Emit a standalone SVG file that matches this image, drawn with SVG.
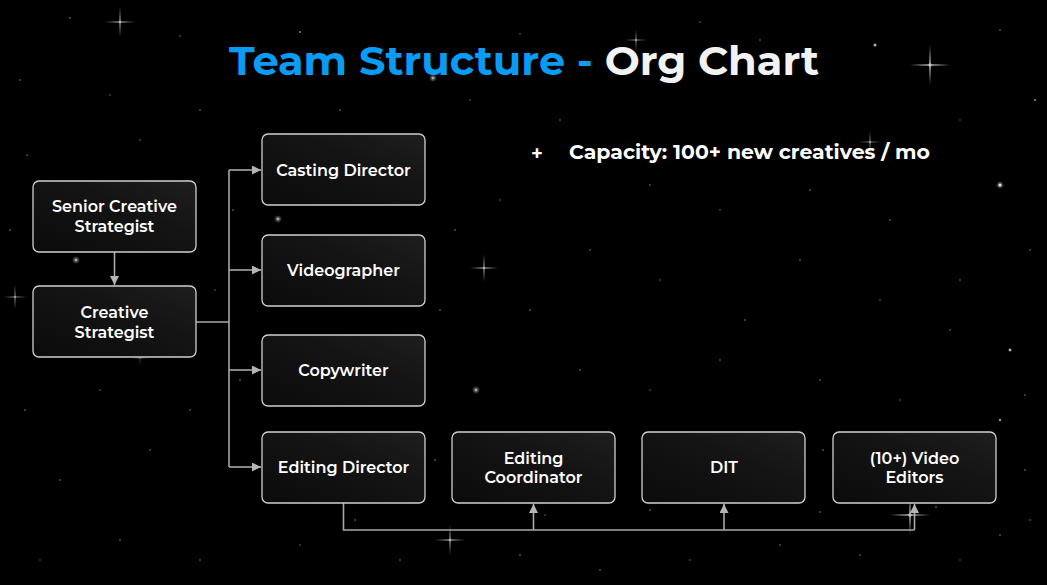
<svg xmlns="http://www.w3.org/2000/svg" width="1047" height="585" viewBox="0 0 1047 585">
<defs>
<linearGradient id="boxg" x1="0" y1="1" x2="1" y2="0">
<stop offset="0" stop-color="#0b0b0b"/>
<stop offset="0.6" stop-color="#141414"/>
<stop offset="1" stop-color="#1e1e1e"/>
</linearGradient>
<radialGradient id="glow">
<stop offset="0" stop-color="#ffffff" stop-opacity="0.9"/>
<stop offset="0.4" stop-color="#ffffff" stop-opacity="0.35"/>
<stop offset="1" stop-color="#ffffff" stop-opacity="0"/>
</radialGradient>
<marker id="arr" viewBox="0 0 10 10" refX="10" refY="5" markerWidth="9" markerHeight="9" markerUnits="userSpaceOnUse" orient="auto">
<path d="M0,0 L10,5 L0,10 z" fill="#b5b5b5"/>
</marker>
<symbol id="spark" viewBox="-20 -20 40 40" overflow="visible">
<path d="M0,-20 L1,-1 L20,0 L1,1 L0,20 L-1,1 L-20,0 L-1,-1 z" fill="#ffffff" opacity="0.55"/>
<circle r="2.5" fill="url(#glow)"/>
</symbol>
</defs>
<style>
.node rect{fill:url(#boxg);stroke:#cfcfcf;stroke-width:1.3}
.node text{font-family:Montserrat,Inter,"Noto Sans",sans-serif;font-weight:600;font-size:16px;fill:#ffffff;text-anchor:middle}
.conn path{fill:none;stroke:#a8a8a8;stroke-width:1.6}
.star{fill:#ffffff}
</style>
<rect width="1047" height="585" fill="#000000"/>
<g id="stars" class="star">
<circle cx="70" cy="18" r="0.8" opacity="0.6"/><circle cx="180" cy="36" r="0.7" opacity="0.5"/><circle cx="300" cy="32" r="0.9" opacity="0.6"/>
<circle cx="380" cy="58" r="0.8" opacity="0.5"/><circle cx="520" cy="34" r="0.7" opacity="0.5"/><circle cx="610" cy="55" r="0.9" opacity="0.6"/>
<circle cx="700" cy="22" r="0.7" opacity="0.5"/><circle cx="760" cy="40" r="0.8" opacity="0.5"/><circle cx="875" cy="45" r="1.5" opacity="0.7"/>
<circle cx="1000" cy="30" r="0.8" opacity="0.5"/><circle cx="1035" cy="100" r="1" opacity="0.6"/><circle cx="960" cy="120" r="0.7" opacity="0.5"/>
<circle cx="20" cy="80" r="0.8" opacity="0.5"/><circle cx="110" cy="95" r="0.7" opacity="0.5"/><circle cx="200" cy="110" r="0.8" opacity="0.5"/>
<circle cx="140" cy="140" r="0.7" opacity="0.5"/><circle cx="27" cy="155" r="0.8" opacity="0.5"/><circle cx="233" cy="210" r="0.8" opacity="0.5"/>
<circle cx="340" cy="110" r="0.8" opacity="0.5"/><circle cx="470" cy="100" r="0.7" opacity="0.5"/><circle cx="560" cy="120" r="0.8" opacity="0.5"/>
<circle cx="650" cy="185" r="0.8" opacity="0.5"/><circle cx="720" cy="210" r="0.7" opacity="0.5"/><circle cx="810" cy="190" r="0.8" opacity="0.5"/>
<circle cx="890" cy="220" r="0.8" opacity="0.5"/><circle cx="1000" cy="185" r="1.5" opacity="0.7"/><circle cx="960" cy="280" r="0.8" opacity="0.5"/>
<circle cx="1030" cy="250" r="0.8" opacity="0.5"/><circle cx="1010" cy="350" r="1.4" opacity="0.7"/><circle cx="950" cy="330" r="0.8" opacity="0.5"/>
<circle cx="880" cy="300" r="0.7" opacity="0.5"/><circle cx="800" cy="260" r="0.8" opacity="0.5"/><circle cx="745" cy="320" r="0.8" opacity="0.5"/>
<circle cx="660" cy="280" r="0.7" opacity="0.5"/><circle cx="590" cy="250" r="0.8" opacity="0.5"/><circle cx="530" cy="310" r="0.8" opacity="0.5"/>
<circle cx="455" cy="230" r="0.8" opacity="0.5"/><circle cx="500" cy="200" r="0.7" opacity="0.5"/><circle cx="440" cy="310" r="0.8" opacity="0.5"/>
<circle cx="580" cy="370" r="0.8" opacity="0.5"/><circle cx="650" cy="390" r="0.7" opacity="0.5"/><circle cx="720" cy="360" r="0.8" opacity="0.5"/>
<circle cx="820" cy="380" r="0.8" opacity="0.5"/><circle cx="900" cy="400" r="0.7" opacity="0.5"/><circle cx="1000" cy="420" r="1.2" opacity="0.6"/>
<circle cx="1025" cy="470" r="0.8" opacity="0.5"/><circle cx="1000" cy="535" r="0.8" opacity="0.5"/><circle cx="960" cy="560" r="0.7" opacity="0.5"/>
<circle cx="860" cy="555" r="0.8" opacity="0.5"/><circle cx="780" cy="545" r="0.8" opacity="0.5"/><circle cx="690" cy="560" r="0.7" opacity="0.5"/>
<circle cx="600" cy="570" r="0.8" opacity="0.5"/><circle cx="520" cy="555" r="0.8" opacity="0.5"/><circle cx="400" cy="560" r="0.8" opacity="0.5"/>
<circle cx="300" cy="545" r="0.7" opacity="0.5"/><circle cx="200" cy="560" r="0.8" opacity="0.5"/><circle cx="120" cy="540" r="0.8" opacity="0.5"/>
<circle cx="40" cy="560" r="0.7" opacity="0.5"/><circle cx="60" cy="480" r="0.8" opacity="0.5"/><circle cx="150" cy="450" r="0.8" opacity="0.5"/>
<circle cx="25" cy="410" r="0.8" opacity="0.5"/><circle cx="100" cy="390" r="0.7" opacity="0.5"/><circle cx="190" cy="410" r="0.8" opacity="0.5"/>
<circle cx="240" cy="380" r="0.8" opacity="0.5"/><circle cx="10" cy="230" r="0.8" opacity="0.5"/><circle cx="215" cy="290" r="0.7" opacity="0.5"/>
<circle cx="355" cy="520" r="0.8" opacity="0.5"/><circle cx="545" cy="515" r="0.7" opacity="0.5"/><circle cx="650" cy="510" r="0.8" opacity="0.5"/>
<circle cx="820" cy="512" r="0.8" opacity="0.5"/><circle cx="936" cy="507" r="0.8" opacity="0.5"/><circle cx="1030" cy="520" r="0.8" opacity="0.5"/>
<circle cx="435" cy="460" r="0.8" opacity="0.5"/><circle cx="823" cy="450" r="0.8" opacity="0.5"/><circle cx="1025" cy="395" r="0.8" opacity="0.5"/>
<circle cx="433" cy="78" r="4" fill="url(#glow)"/><circle cx="278" cy="219" r="4" fill="url(#glow)"/><circle cx="76" cy="260" r="4" fill="url(#glow)"/>
<circle cx="476" cy="390" r="4" fill="url(#glow)"/><circle cx="1000" cy="185" r="4" fill="url(#glow)"/>
<use href="#spark" x="105" y="7" width="30" height="30"/>
<use href="#spark" x="910" y="45" width="40" height="40"/>
<use href="#spark" x="470" y="254" width="28" height="28"/>
<use href="#spark" x="3" y="285" width="24" height="24"/>
<use href="#spark" x="890" y="495" width="40" height="40"/>
<use href="#spark" x="435" y="525" width="30" height="30"/>
<use href="#spark" x="625" y="29" width="22" height="22"/>
<use href="#spark" x="859" y="131" width="22" height="22"/>
<use href="#spark" x="132" y="350" width="16" height="16" opacity="0.6"/>
</g>
<g id="title">
<text x="524" y="75" text-anchor="middle" font-family="Montserrat,Inter,'Noto Sans',sans-serif" font-weight="700" font-size="40" textLength="590" lengthAdjust="spacingAndGlyphs"><tspan fill="#0a9cf4">Team Structure - </tspan><tspan fill="#f2f2f2">Org Chart</tspan></text>
</g>
<g id="capacity">
<text x="537" y="159" text-anchor="middle" font-family="Inter,'Noto Sans',sans-serif" font-weight="700" font-size="19" fill="#ffffff">+</text>
<text x="569" y="159" font-family="Montserrat,Inter,'Noto Sans',sans-serif" font-weight="700" font-size="19" fill="#ffffff" textLength="361" lengthAdjust="spacingAndGlyphs">Capacity: 100+ new creatives / mo</text>
</g>
<g id="connectors" class="conn">
<path d="M114.5,252 V285" marker-end="url(#arr)"/>
<path d="M196,322 H229"/>
<path d="M229,170 V467"/>
<path d="M229,170 H261" marker-end="url(#arr)"/>
<path d="M229,270 H261" marker-end="url(#arr)"/>
<path d="M229,370 H261" marker-end="url(#arr)"/>
<path d="M229,467 H261" marker-end="url(#arr)"/>
<path d="M343.5,503 V530 H914.5"/>
<path d="M533.5,530 V504" marker-end="url(#arr)"/>
<path d="M724,530 V504" marker-end="url(#arr)"/>
<path d="M914.5,530 V504" marker-end="url(#arr)"/>
</g>
<g id="senior" class="node"><rect x="33" y="181" width="163" height="71" rx="6"/><text x="114.5" y="212">Senior Creative</text><text x="114.5" y="232">Strategist</text></g>
<g id="creative" class="node"><rect x="33" y="286" width="163" height="71" rx="6"/><text x="114.5" y="318">Creative</text><text x="114.5" y="338">Strategist</text></g>
<g id="casting" class="node"><rect x="262" y="134" width="163" height="71" rx="6"/><text x="343.5" y="176">Casting Director</text></g>
<g id="videographer" class="node"><rect x="262" y="235" width="163" height="71" rx="6"/><text x="343.5" y="276">Videographer</text></g>
<g id="copywriter" class="node"><rect x="262" y="335" width="163" height="71" rx="6"/><text x="343.5" y="376">Copywriter</text></g>
<g id="editing-director" class="node"><rect x="262" y="432" width="163" height="71" rx="6"/><text x="343.5" y="473">Editing Director</text></g>
<g id="editing-coordinator" class="node"><rect x="452" y="432" width="163" height="71" rx="6"/><text x="533.5" y="464">Editing</text><text x="533.5" y="483">Coordinator</text></g>
<g id="dit" class="node"><rect x="642" y="432" width="163" height="71" rx="6"/><text x="724" y="473">DIT</text></g>
<g id="video-editors" class="node"><rect x="833" y="432" width="163" height="71" rx="6"/><text x="914.5" y="464">(10+) Video</text><text x="914.5" y="483">Editors</text></g>
</svg>
